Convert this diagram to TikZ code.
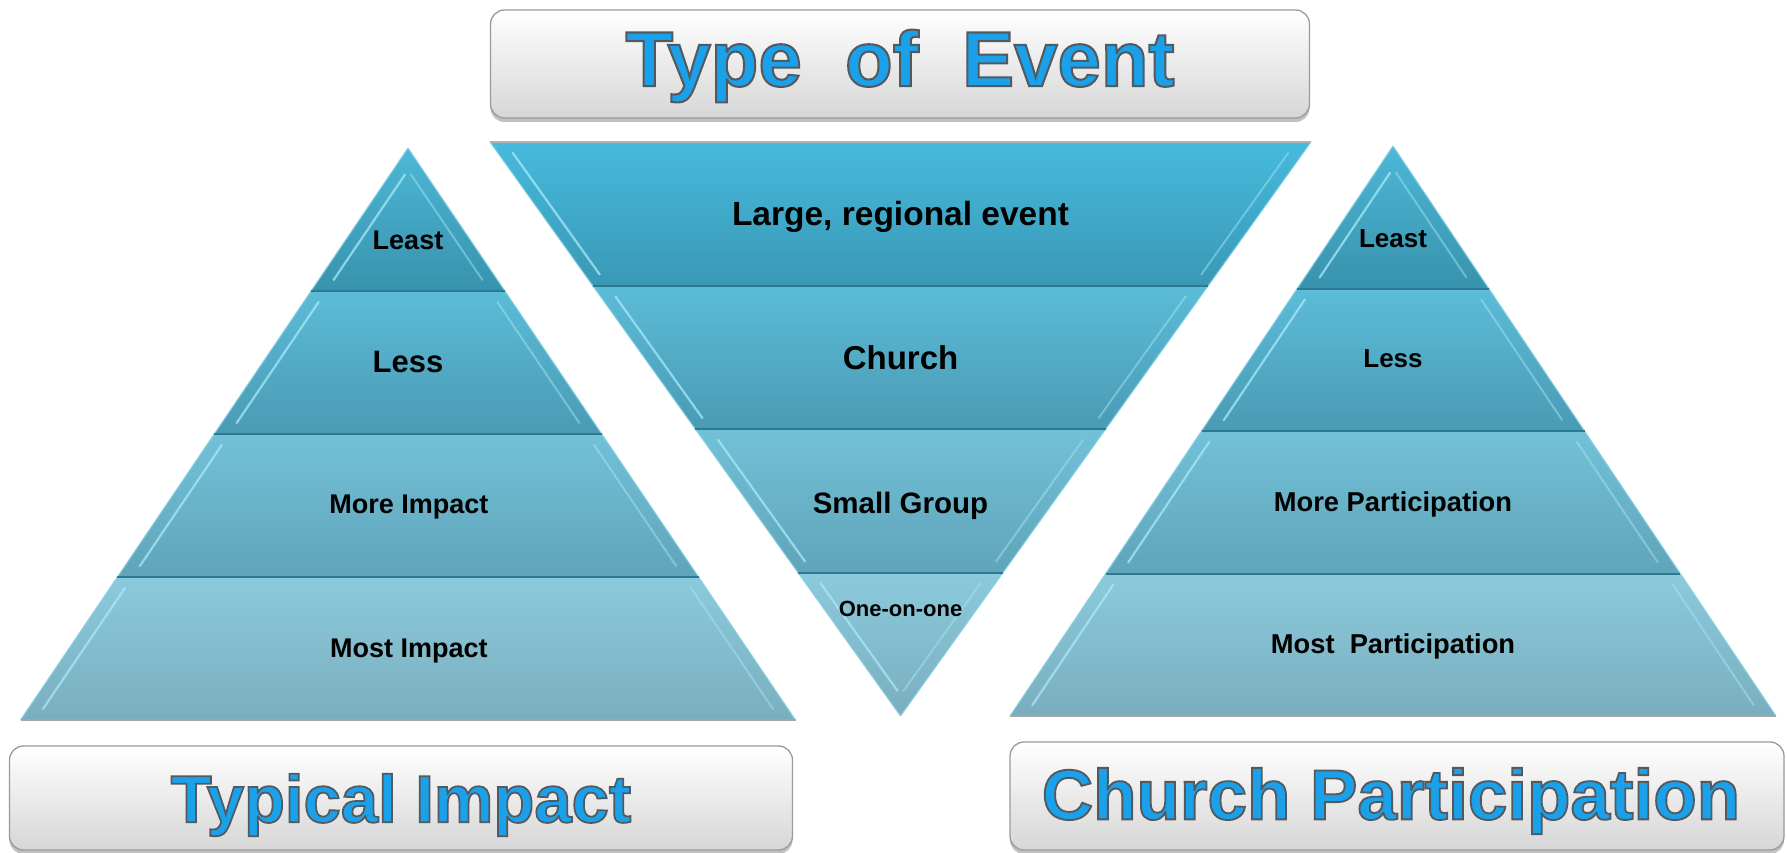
\documentclass[tikz,border=0pt]{standalone}
\usepackage{fontspec}
\setmainfont{Liberation Sans}
\newfontfamily\titlefont[BoldFeatures={FakeBold=2.6}]{Liberation Sans}
\usetikzlibrary{shadows,calc}
\definecolor{tAtop}{HTML}{4DB8D6}\definecolor{tAbot}{HTML}{3892AD}
\definecolor{tMtop}{HTML}{46BADC}\definecolor{tMbot}{HTML}{3A98B6}
\definecolor{tBtop}{HTML}{5CBCD8}\definecolor{tBbot}{HTML}{4A9AB4}
\definecolor{tCtop}{HTML}{72C1D8}\definecolor{tCbot}{HTML}{60A4B8}
\definecolor{tDtop}{HTML}{8BCADC}\definecolor{tDbot}{HTML}{7AAEBE}
\definecolor{sepcol}{HTML}{2C7A92}
\definecolor{hicol}{HTML}{A6EAFA}
\definecolor{titleblue}{HTML}{1BA0EA}
\definecolor{boxedge}{HTML}{9A9A9A}
\newcommand\ttl[1]{\special{pdf:bcolor [0.106 0.627 0.918] [0.33 0.35 0.37]}#1\special{pdf:ecolor}}
\newcommand\band[7]{%
  \pgfmathsetmacro\bs{(#5-#3)/(#4-#2)}%
  \shade[top color=#6,bottom color=#7] (#1-#3,#2) -- (#1+#3,#2) -- (#1+#5,#4) -- (#1-#5,#4) -- cycle;
  \pgfmathsetmacro\ya{(#3<18) ? (#2+(18-#3)/\bs) : (#2+11)}%
  \pgfmathsetmacro\yb{(#5<18) ? (#4+(18-#5)/\bs) : (#4-11)}%
  \pgfmathsetmacro\ha{#3+\bs*(\ya-#2)-15}%
  \pgfmathsetmacro\hb{#3+\bs*(\yb-#2)-15}%
  \draw[bevhi] (#1-\ha,\ya) -- (#1-\hb,\yb);
  \draw[bevhi2] (#1+\ha,\ya) -- (#1+\hb,\yb);
  \draw[outer] (#1-#3,#2) -- (#1-#5,#4) (#1+#3,#2) -- (#1+#5,#4);
}
\begin{document}
\begin{tikzpicture}[x=1pt,y=-1pt,
  bevhi/.style={line width=2.2pt,hicol,opacity=0.75,line cap=round},
  bevhi2/.style={line width=2pt,hicol,opacity=0.45,line cap=round},
  outer/.style={line width=1.2pt,hicol!70!tMbot,opacity=0.8},
  sep/.style={line width=2pt,sepcol},
  lab/.style={font=\bfseries,text=black,inner sep=0pt},
  titlebox/.style={draw=boxedge,line width=1.3pt,rounded corners=14pt,
     top color=white,bottom color=black!16,
     drop shadow={shadow xshift=0pt,shadow yshift=-4pt,opacity=0.35,fill=black!70},
     inner sep=0pt},
  titletext/.style={text=titleblue,inner sep=0pt}]
\useasboundingbox (0,0) rectangle (1787,853);

% ---------- Left pyramid (Typical Impact)
\band{408}{148}{0}{291}{96.9}{tAtop}{tAbot}
\band{408}{291}{96.9}{434}{193.75}{tBtop}{tBbot}
\band{408}{434}{193.75}{577}{290.6}{tCtop}{tCbot}
\band{408}{577}{290.6}{720}{387.5}{tDtop}{tDbot}
\draw[sep] (408-96.9,291) -- (408+96.9,291);
\draw[sep] (408-193.75,434) -- (408+193.75,434);
\draw[sep] (408-290.6,577) -- (408+290.6,577);
\draw[line width=1.5pt,black!35] (408-387.5,720) -- (408+387.5,720);
\node[lab,font=\bfseries\fontsize{27}{30}\selectfont] (L1) at (408,240) {Least};
\node[lab,font=\bfseries\fontsize{31}{34}\selectfont] (L2) at (408,362) {Less};
\node[lab,font=\bfseries\fontsize{27}{30}\selectfont] (L3) at (409,507) {More Impact};
\node[lab,font=\bfseries\fontsize{27}{30}\selectfont] (L4) at (409,651) {Most Impact};

% ---------- Middle inverted pyramid (Type of Event)
\band{900.5}{142}{410.5}{285.5}{307.9}{tMtop}{tMbot}
\band{900.5}{285.5}{307.9}{429}{205.25}{tBtop}{tBbot}
\band{900.5}{429}{205.25}{572.5}{102.6}{tCtop}{tCbot}
\band{900.5}{572.5}{102.6}{716}{0}{tDtop}{tDbot}
\draw[line width=1.5pt,black!30] (900.5-410.5,142) -- (900.5+410.5,142);
\draw[sep] (900.5-307.9,285.5) -- (900.5+307.9,285.5);
\draw[sep] (900.5-205.25,429) -- (900.5+205.25,429);
\draw[sep] (900.5-102.6,572.5) -- (900.5+102.6,572.5);
\node[lab,font=\bfseries\fontsize{33.5}{37}\selectfont] (M1) at (900.5,217) {Large, regional event};
\node[lab,font=\bfseries\fontsize{33}{37}\selectfont] (M2) at (900.5,358) {Church};
\node[lab,font=\bfseries\fontsize{29.5}{32}\selectfont] (M3) at (900.5,506) {Small Group};
\node[lab,font=\bfseries\fontsize{22}{25}\selectfont] (M4) at (900.5,609) {One-on-one};

% ---------- Right pyramid (Church Participation)
\band{1393}{146}{0}{288.5}{95.75}{tAtop}{tAbot}
\band{1393}{288.5}{95.75}{431}{191.5}{tBtop}{tBbot}
\band{1393}{431}{191.5}{573.5}{287.25}{tCtop}{tCbot}
\band{1393}{573.5}{287.25}{716}{383}{tDtop}{tDbot}
\draw[sep] (1393-95.75,288.5) -- (1393+95.75,288.5);
\draw[sep] (1393-191.5,431) -- (1393+191.5,431);
\draw[sep] (1393-287.25,573.5) -- (1393+287.25,573.5);
\draw[line width=1.5pt,black!35] (1393-383,716) -- (1393+383,716);
\node[lab,font=\bfseries\fontsize{26}{29}\selectfont] (R1) at (1393,239) {Least};
\node[lab,font=\bfseries\fontsize{26}{29}\selectfont] (R2) at (1393,359) {Less};
\node[lab,font=\bfseries\fontsize{27.3}{30}\selectfont] (R3) at (1393,504) {More Participation};
\node[lab,font=\bfseries\fontsize{27.3}{30}\selectfont] (R4) at (1393,646) {Most\ \ Participation};

% ---------- Title boxes
\node[titlebox,minimum width=819pt,minimum height=108pt] (tEvent) at (900,64) {};
\node[titletext,font=\titlefont\bfseries\fontsize{78}{86}\selectfont] (tEventTxt) at (900,66)
  {\ttl{Type\ \ of\ \ Event}};
\node[titlebox,minimum width=783pt,minimum height=104pt] (tImpact) at (401,798) {};
\node[titletext,font=\titlefont\bfseries\fontsize{67}{74}\selectfont] (tImpactTxt) at (401,805)
  {\ttl{Typical Impact}};
\node[titlebox,minimum width=774pt,minimum height=108pt] (tPart) at (1397,796) {};
\node[titletext,font=\titlefont\bfseries\fontsize{71}{78}\selectfont] (tPartTxt) at (1391,801)
  {\ttl{Church Participation}};
\end{tikzpicture}
\end{document}
